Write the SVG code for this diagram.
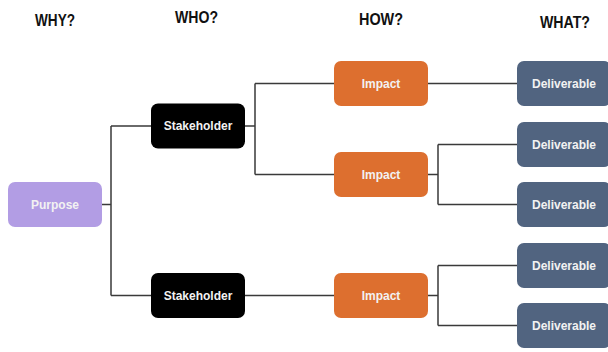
<svg xmlns="http://www.w3.org/2000/svg" width="608" height="352" viewBox="0 0 608 352">
<style>
.hdr{font-family:"Liberation Sans",Arial,sans-serif;font-weight:bold;font-size:16px;fill:#111;text-anchor:middle}
.lbl{font-family:"Liberation Sans",Arial,sans-serif;font-weight:bold;font-size:12px;fill:#f2f2f2;text-anchor:middle}
.box{stroke:none}
.purpose{fill:#b29de4}
.stake{fill:#000}
.impact{fill:#dd6f2f}
.deliv{fill:#516480}
.conn{fill:none;stroke:#3a3a3a;stroke-width:1.5}
</style>
<rect width="608" height="352" fill="#fff"/>
<g id="headers">
<text class="hdr" x="55" y="26" textLength="40" lengthAdjust="spacingAndGlyphs">WHY?</text>
<text class="hdr" x="196.5" y="23" textLength="43" lengthAdjust="spacingAndGlyphs">WHO?</text>
<text class="hdr" x="381" y="25" textLength="44" lengthAdjust="spacingAndGlyphs">HOW?</text>
<text class="hdr" x="565" y="28" textLength="50" lengthAdjust="spacingAndGlyphs">WHAT?</text>
</g>
<g id="connectors">
<path class="conn" d="M102 204.5H111M111 126V295.5M111 126H151M111 295.5H151"/>
<path class="conn" d="M245 126H255M255 83.5V174.5M255 83.5H334M255 174.5H334"/>
<path class="conn" d="M245 295.5H334"/>
<path class="conn" d="M428 83.5H517"/>
<path class="conn" d="M428 174.5H438M438 144.5V204.5M438 144.5H517M438 204.5H517"/>
<path class="conn" d="M428 295.5H438M438 265.5V325.5M438 265.5H517M438 325.5H517"/>
</g>
<g id="purpose"><rect class="box purpose" x="8" y="182" width="94" height="45" rx="7"/><text class="lbl" x="55" y="208.5">Purpose</text></g>
<g id="stakeholder1"><rect class="box stake" x="151" y="103.5" width="94" height="45" rx="7"/><text class="lbl" x="198" y="130">Stakeholder</text></g>
<g id="stakeholder2"><rect class="box stake" x="151" y="273" width="94" height="45" rx="7"/><text class="lbl" x="198" y="299.5">Stakeholder</text></g>
<g id="impact1"><rect class="box impact" x="334" y="61" width="94" height="45" rx="7"/><text class="lbl" x="381" y="87.5">Impact</text></g>
<g id="impact2"><rect class="box impact" x="334" y="152" width="94" height="45" rx="7"/><text class="lbl" x="381" y="178.5">Impact</text></g>
<g id="impact3"><rect class="box impact" x="334" y="273" width="94" height="45" rx="7"/><text class="lbl" x="381" y="299.5">Impact</text></g>
<g id="deliverable1"><rect class="box deliv" x="517" y="61" width="94" height="45" rx="7"/><text class="lbl" x="564" y="87.5">Deliverable</text></g>
<g id="deliverable2"><rect class="box deliv" x="517" y="122" width="94" height="45" rx="7"/><text class="lbl" x="564" y="148.5">Deliverable</text></g>
<g id="deliverable3"><rect class="box deliv" x="517" y="182" width="94" height="45" rx="7"/><text class="lbl" x="564" y="208.5">Deliverable</text></g>
<g id="deliverable4"><rect class="box deliv" x="517" y="243" width="94" height="45" rx="7"/><text class="lbl" x="564" y="269.5">Deliverable</text></g>
<g id="deliverable5"><rect class="box deliv" x="517" y="303" width="94" height="45" rx="7"/><text class="lbl" x="564" y="329.5">Deliverable</text></g>
</svg>
